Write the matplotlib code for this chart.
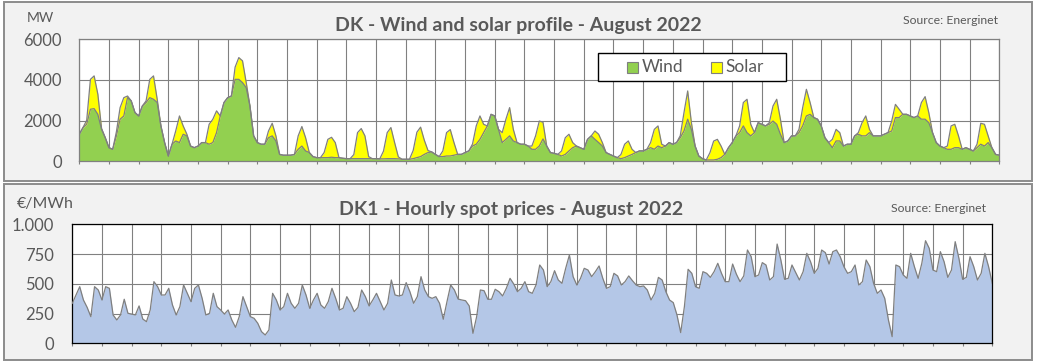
import numpy as np
import matplotlib
matplotlib.use("Agg")
import matplotlib.pyplot as plt
from matplotlib.patches import Rectangle

# ---------------- data (3-hourly samples, hours 0,3,...,21 each day, plus end point) ----
wind_mw = [
    1330, 1660, 1820, 2560, 2590, 2310, 1570, 1160,   # Aug 1
    670, 590, 1250, 2070, 2230, 3130, 2970, 2400,     # Aug 2
    2230, 2720, 2890, 3130, 3050, 2890, 1740, 920,    # Aug 3
    260, 840, 1000, 920, 1330, 1250, 750, 670,        # Aug 4
    750, 920, 920, 840, 920, 1410, 2230, 2890,        # Aug 5
    3130, 3210, 4030, 4030, 3870, 3620, 2720, 1250,   # Aug 6
    920, 840, 840, 1160, 1250, 1000, 340, 300,        # Aug 7
    300, 300, 340, 590, 750, 510, 430, 230,           # Aug 8
    180, 180, 180, 180, 200, 180, 180, 150,           # Aug 9
    130, 130, 130, 130, 130, 130, 130, 130,           # Aug 10
    130, 120, 120, 130, 130, 130, 120, 100,           # Aug 11
    100, 100, 130, 180, 230, 340, 430, 460,           # Aug 12
    340, 230, 230, 260, 260, 300, 340, 340,           # Aug 13
    430, 510, 750, 840, 1080, 1410, 1740, 2310,       # Aug 14
    2230, 1570, 920, 1080, 1250, 1000, 920, 840,      # Aug 15
    840, 750, 590, 590, 750, 1100, 750, 430,          # Aug 16
    390, 340, 260, 340, 510, 670, 750, 670,           # Aug 17
    590, 1080, 1250, 1080, 920, 750, 430, 340,        # Aug 18
    260, 180, 130, 180, 260, 340, 430, 510,           # Aug 19
    510, 590, 670, 590, 750, 670, 750, 920,           # Aug 20
    840, 920, 1160, 1490, 2070, 1570, 750, 260,       # Aug 21
    130, 65, 65, 65, 100, 180, 340, 670,              # Aug 22
    920, 1250, 1410, 1740, 1410, 1250, 1410, 1900,    # Aug 23
    1820, 1740, 1820, 1980, 1820, 1330, 920, 1000,    # Aug 24
    1250, 1250, 1410, 1740, 2230, 2310, 2150, 2070,   # Aug 25
    1740, 1160, 920, 670, 1000, 1000, 750, 840,       # Aug 26
    840, 1250, 1330, 1250, 1250, 1410, 1250, 1250,    # Aug 27
    1250, 1330, 1410, 1490, 2150, 2150, 2310, 2310,   # Aug 28
    2230, 2150, 2230, 2070, 2070, 1900, 1410, 920,    # Aug 29
    750, 670, 590, 590, 670, 670, 590, 670,           # Aug 30
    590, 510, 670, 840, 750, 920, 670, 340,           # Aug 31
    300,
]

solar_mw = [
    0, 0, 200, 1470, 1610, 990, 50, 0,
    0, 0, 200, 570, 900, 80, 0, 0,
    0, 0, 80, 900, 1150, 160, 0, 0,
    0, 0, 500, 1310, 410, 80, 0, 0,
    0, 0, 0, 980, 1150, 1070, 0, 0,
    0, 0, 600, 1070, 1070, 250, 0, 0,
    0, 0, 0, 330, 620, 250, 0, 0,
    0, 0, 0, 660, 960, 650, 0, 0,
    0, 0, 250, 900, 980, 740, 0, 0,
    0, 0, 200, 1280, 1480, 1120, 100, 0,
    0, 0, 380, 1280, 1530, 790, 100, 0,
    0, 0, 400, 1250, 1450, 700, 100, 0,
    0, 0, 280, 1150, 1300, 620, 0, 0,
    0, 0, 100, 900, 1150, 410, 0, 0,
    0, 0, 490, 990, 1390, 570, 0, 0,
    0, 0, 160, 660, 1230, 820, 0, 0,
    0, 0, 250, 820, 820, 250, 0, 0,
    0, 0, 0, 410, 410, 170, 0, 0,
    0, 0, 200, 660, 740, 250, 0, 0,
    0, 0, 250, 980, 990, 170, 0, 0,
    0, 0, 100, 900, 1390, 330, 0, 0,
    0, 0, 360, 930, 980, 570, 0, 0,
    0, 0, 330, 1150, 1640, 570, 0, 0,
    0, 0, 80, 740, 1230, 740, 0, 0,
    0, 0, 160, 900, 1310, 580, 0, 0,
    0, 0, 0, 410, 570, 410, 0, 0,
    0, 0, 80, 650, 980, 160, 0, 0,
    0, 0, 0, 490, 650, 410, 0, 0,
    0, 0, 0, 820, 1110, 490, 0, 0,
    0, 0, 160, 1150, 1150, 580, 0, 0,
    0, 0, 170, 1030, 1070, 330, 0, 0,
    0,
]

price_eur = [
    336, 406, 476, 364, 302, 224, 476, 448,
    364, 476, 462, 238, 196, 238, 370, 252,
    246, 238, 314, 204, 182, 280, 518, 476,
    406, 406, 462, 322, 238, 308, 490, 420,
    350, 462, 490, 378, 238, 252, 420, 308,
    280, 246, 280, 196, 134, 224, 392, 308,
    224, 210, 168, 98, 70, 112, 420, 364,
    280, 308, 420, 336, 294, 336, 490, 406,
    294, 364, 420, 322, 294, 350, 462, 378,
    280, 294, 392, 336, 266, 302, 448, 392,
    314, 364, 420, 350, 280, 336, 532, 406,
    398, 406, 510, 434, 336, 392, 560, 448,
    392, 378, 392, 336, 202, 350, 490, 448,
    372, 364, 358, 314, 84, 224, 448, 442,
    370, 370, 454, 434, 398, 462, 546, 498,
    434, 462, 518, 434, 420, 490, 658, 616,
    476, 518, 610, 532, 504, 630, 742, 560,
    490, 546, 630, 616, 560, 602, 650, 546,
    462, 476, 588, 566, 490, 518, 566, 526,
    490, 476, 482, 448, 364, 420, 554, 532,
    434, 364, 342, 238, 90, 308, 622, 588,
    476, 462, 602, 588, 554, 602, 672, 588,
    518, 518, 666, 582, 518, 566, 784, 728,
    560, 574, 678, 658, 532, 560, 834, 700,
    538, 546, 658, 594, 532, 602, 756, 686,
    588, 630, 784, 762, 666, 770, 784, 728,
    644, 588, 602, 658, 490, 518, 700, 644,
    504, 420, 448, 378, 196, 56, 658, 644,
    574, 546, 756, 644, 546, 672, 862, 798,
    616, 602, 770, 686, 554, 616, 854, 714,
    538, 554, 728, 644, 532, 588, 756, 644,
    504,
]

wind_ticks = [0, 2000, 4000, 6000]
wind_tick_labels = ["0", "2000", "4000", "6000"]
price_ticks = [0, 250, 500, 750, 1000]
price_tick_labels = ["0", "250", "500", "750", "1.000"]
n_days = 31
series_labels = ["Wind", "Solar"]

# ---------------- styling ----------------
FONT = "Lato"
TXT = "#595959"
GRID = "#808080"
GREEN = "#92d050"
YELLOW = "#ffff00"
BLUE = "#b4c7e7"
LINE = "#7f7f7f"

W, H = 1037, 362
fig = plt.figure(figsize=(W / 100, H / 100), dpi=100, facecolor="white")


def fx(x):
    return x / W


def fy(y):
    return 1 - y / H


def frame(x0, y0, x1, y1):
    fig.patches.append(Rectangle((fx(x0), fy(y1)), fx(x1) - fx(x0), fy(y0) - fy(y1),
                                 transform=fig.transFigure, facecolor="#f2f2f2",
                                 edgecolor="#8c8c8c", linewidth=1.4, zorder=-5))


frame(4, 1.5, 1032, 181)
frame(4, 184.5, 1032, 359.5)

hours = np.arange(len(wind_mw)) * 3.0
wind = np.array(wind_mw, dtype=float)
total = wind + np.array(solar_mw, dtype=float)
price = np.array(price_eur, dtype=float)
day_ticks = np.arange(0, n_days * 24 + 1, 24)


def style_axes(ax, spine_color, yticks, ylabels, ylim, pad):
    ax.set_facecolor("white")
    ax.set_xlim(0, n_days * 24)
    ax.set_ylim(*ylim)
    ax.set_xticks(day_ticks)
    ax.set_xticklabels([])
    ax.set_yticks(yticks)
    ax.set_yticklabels(ylabels, fontsize=12, color=TXT, family=FONT)
    ax.tick_params(axis="x", direction="out", length=2.5, width=0.8, color=GRID)
    ax.tick_params(axis="y", length=0, pad=pad)
    ax.grid(True, color=GRID, linewidth=0.8)
    ax.set_axisbelow(True)
    for s in ax.spines.values():
        s.set_color(spine_color)
        s.set_linewidth(0.9)


# ---------------- top chart ----------------
ax1 = fig.add_axes([fx(79.3), fy(161.3), fx(999.3) - fx(79.3), fy(39.3) - fy(161.3)])
ax1.set_zorder(1)
ax1.fill_between(hours, 0, wind, color=GREEN, linewidth=0, zorder=2)
ax1.fill_between(hours, wind, total, color=YELLOW, linewidth=0, zorder=2)
ax1.plot(hours, total, color=LINE, linewidth=0.9, zorder=3)
ax1.plot(hours, wind, color=LINE, linewidth=0.9, zorder=3)
style_axes(ax1, GRID, wind_ticks, wind_tick_labels, (0, 6000), 12.5)

fig.text(fx(518.5), fy(25), "DK - Wind and solar profile - August 2022", ha="center",
         va="center", fontsize=14, fontweight="bold", color=TXT, family=FONT)
fig.text(fx(998), fy(21), "Source: Energinet", ha="right", va="center",
         fontsize=8.8, color=TXT, family=FONT)
fig.text(fx(40.5), fy(18), "MW", ha="center", va="center", fontsize=10,
         color=TXT, family=FONT)

# legend (drawn box + entries)
fig.patches.append(Rectangle((fx(598), fy(81)), fx(786) - fx(598), fy(53) - fy(81),
                             transform=fig.transFigure, facecolor="white",
                             edgecolor="black", linewidth=1.0, zorder=5))
for (sx, col, lab) in [(627, GREEN, series_labels[0]), (710.5, YELLOW, series_labels[1])]:
    fig.patches.append(Rectangle((fx(sx), fy(72.5)), fx(11) - fx(0), fy(61.5) - fy(72.5),
                                 transform=fig.transFigure, facecolor=col,
                                 edgecolor=LINE, linewidth=0.8, zorder=6))
    fig.text(fx(sx + 15), fy(67.5), lab, ha="left", va="center", fontsize=12.5,
             color=TXT, family=FONT, zorder=7)

# ---------------- bottom chart ----------------
ax2 = fig.add_axes([fx(72.3), fy(343.3), fx(992.3) - fx(72.3), fy(224.3) - fy(343.3)])
ax2.set_zorder(1)
ax2.fill_between(hours, 0, price, color=BLUE, linewidth=0, zorder=2)
ax2.plot(hours, price, color=LINE, linewidth=0.9, zorder=3)
style_axes(ax2, "black", price_ticks, price_tick_labels, (0, 1000), 13)

fig.text(fx(511), fy(210), "DK1 - Hourly spot prices - August 2022", ha="center",
         va="center", fontsize=14, fontweight="bold", color=TXT, family=FONT)
fig.text(fx(986), fy(208), "Source: Energinet", ha="right", va="center",
         fontsize=8.8, color=TXT, family=FONT)
fig.text(fx(45.5), fy(204), "€/MWh", ha="center", va="center", fontsize=11.5,
         color=TXT, family=FONT)

fig.savefig("out.png", dpi=100, facecolor="white")
